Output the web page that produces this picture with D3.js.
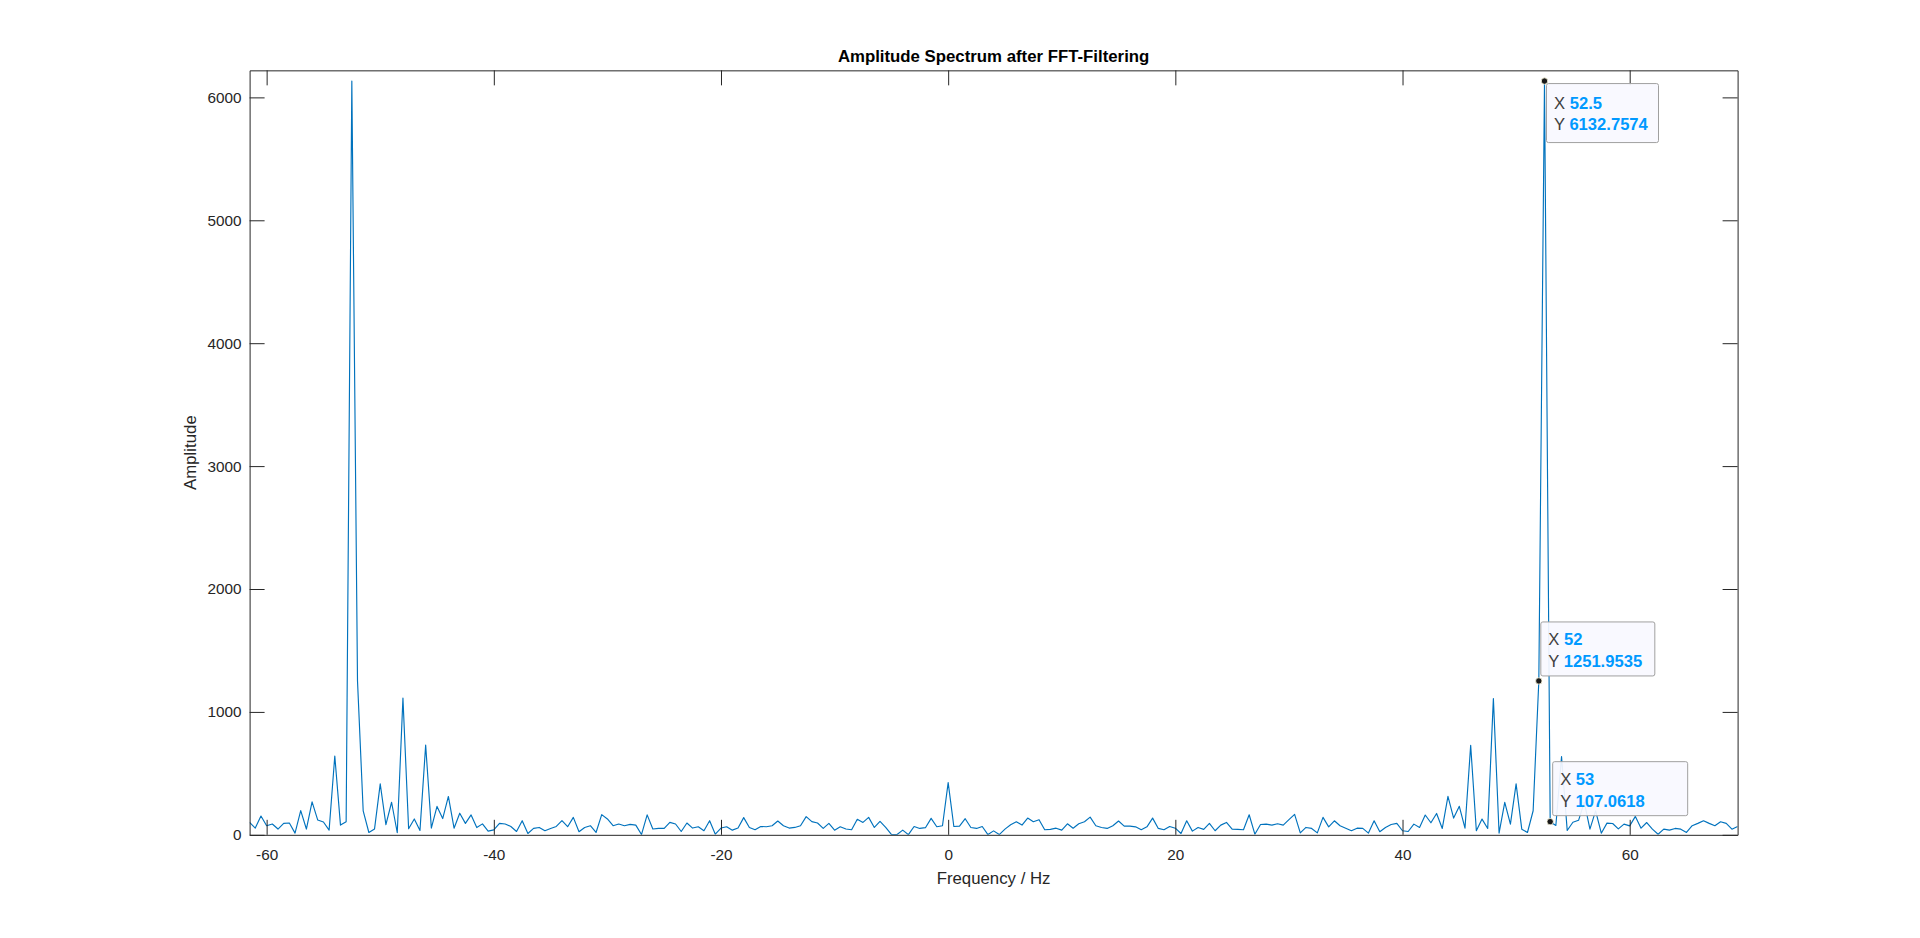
<!DOCTYPE html>
<html><head><meta charset="utf-8">
<script src="https://cdn.jsdelivr.net/npm/d3@7"></script>
<style>
body{margin:0;background:#fff;}
svg{display:block;}
text{font-family:"Liberation Sans",Arial,Helvetica,sans-serif;}
</style>
</head><body>
<svg id="chart" width="1920" height="938"></svg>
<script>
// ---- data ----
const freqStart = -61.5;
const freqStep = 0.5;
const amplitude = [
  101,55,153,74,88,47,93,96,14,197,
  47,268,120,104,38,641,79,107.0618,6132.7574,1251.9535,
  194,19,48,415,83,265,17,1112,50,129,
  36,730,55,231,132,312,54,176,93,162,
  59,89,30,40,93,88,68,27,115,11,
  52,60,33,52,68,115,66,142,25,60,
  74,19,164,129,74,88,74,85,79,2,
  162,47,52,52,101,88,27,96,55,66,
  33,115,5,55,66,38,55,140,60,41,
  68,66,74,112,74,55,60,74,148,107,
  96,52,93,38,66,47,41,126,101,142,
  60,110,60,3,2,38,1,68,52,58,
  134,66,74,425,68,71,131,60,52,68,
  2,32,2,46,82,106,79,136,106,123,
  41,44,54,38,90,54,90,106,144,74,
  60,52,74,112,71,71,65,41,65,136,
  52,41,68,54,11,114,30,60,44,93,
  33,79,101,46,44,41,163,5,84,87,
  79,90,79,123,166,16,60,52,16,142,
  65,114,74,54,33,54,52,14,114,25,
  60,84,93,33,27,87,60,161,98,174,
  52,313,136,232,54,728,33,128,52,1109,
  14,264,87,414,46,19,196,1251.9535,6132.7574,107.0618,
  76,636,35,102,118,266,46,195,13,95,
  92,48,87,73,150,54,100,46,5,46,
  38,52,46,19,74,93,114,93,74,106,
  93,46,68
];
const xTicks = [-60,-40,-20,0,20,40,60];
const yTicks = [0,1000,2000,3000,4000,5000,6000];
const xDomain = [-61.5, 69.5];
const yDomain = [0, 6220];
const tipX = [52.5, 52, 53];
const tipY = [6132.7574, 1251.9535, 107.0618];
const titleText = "Amplitude Spectrum after FFT-Filtering";
const xLabelText = "Frequency / Hz";
const yLabelText = "Amplitude";

// ---- layout ----
const W = 1920, H = 938;
const pLeft = 0.13*W, plotW = 0.775*W;
const pBottom = H - 0.11*H, pTop = H - 0.925*H;
const axisColor = "#262626";
const lineColor = "#0072BD";
const tickLen = 15;
const fs = 15.3;
// data tip box layout (placement relative to marker, box size)
const tipLayout = [
  {dx: 2, dy: 2.5, below: true, w: 112, h: 59, base: 25.5, lh: 21},
  {dx: 2, dy: -5, below: false, w: 114, h: 54, base: 23, lh: 22},
  {dx: 2.5, dy: -6, below: false, w: 135, h: 54, base: 23, lh: 22}
];

const svg = d3.select("#chart");
const x = d3.scaleLinear().domain(xDomain).range([pLeft, pLeft+plotW]);
const y = d3.scaleLinear().domain(yDomain).range([pBottom, pTop]);

const points = amplitude.map((a,i)=>({f: freqStart + i*freqStep, a}));

svg.append("clipPath").attr("id","clip").append("rect")
  .attr("x",pLeft).attr("y",pTop).attr("width",plotW).attr("height",pBottom-pTop);
svg.append("path").datum(points)
  .attr("clip-path","url(#clip)")
  .attr("fill","none").attr("stroke",lineColor).attr("stroke-width",1.15)
  .attr("stroke-linejoin","round")
  .attr("d", d3.line().x(d=>x(d.f)).y(d=>y(d.a)));

function styleAxis(g){
  g.selectAll("path.domain").attr("stroke",axisColor).attr("stroke-width",1);
  g.selectAll(".tick line").attr("stroke",axisColor).attr("stroke-width",1);
  g.selectAll(".tick text").attr("fill",axisColor).style("font-size",fs+"px")
    .style("font-family",'"Liberation Sans",Arial,Helvetica,sans-serif');
}
const gB = svg.append("g").attr("transform",`translate(0,${pBottom})`)
  .call(d3.axisBottom(x).tickValues(xTicks).tickSizeInner(-tickLen).tickSizeOuter(0).tickPadding(14).tickFormat(d=>String(d)));
styleAxis(gB);
const gT = svg.append("g").attr("transform",`translate(0,${pTop})`)
  .call(d3.axisTop(x).tickValues(xTicks).tickSizeInner(-tickLen).tickSizeOuter(0).tickFormat(""));
styleAxis(gT);
const gL = svg.append("g").attr("transform",`translate(${pLeft},0)`)
  .call(d3.axisLeft(y).tickValues(yTicks).tickSizeInner(-tickLen).tickSizeOuter(0).tickPadding(8).tickFormat(d=>String(d)));
styleAxis(gL);
const gR = svg.append("g").attr("transform",`translate(${pLeft+plotW},0)`)
  .call(d3.axisRight(y).tickValues(yTicks).tickSizeInner(-tickLen).tickSizeOuter(0).tickFormat(""));
styleAxis(gR);

svg.append("text").attr("x",pLeft+plotW/2).attr("y",pTop-8)
  .attr("text-anchor","middle").attr("fill","#000")
  .style("font-size","16.8px").style("font-weight","bold").text(titleText);
svg.append("text").attr("x",pLeft+plotW/2).attr("y",pBottom+49)
  .attr("text-anchor","middle").attr("fill",axisColor)
  .style("font-size","16.8px").text(xLabelText);
svg.append("text").attr("transform",`translate(${pLeft-54},${(pTop+pBottom)/2}) rotate(-90)`)
  .attr("text-anchor","middle").attr("fill",axisColor)
  .style("font-size","16.8px").text(yLabelText);

// data tips
tipX.forEach((fx,i)=>{
  const L = tipLayout[i];
  const px = x(fx), py = y(tipY[i]);
  const bx = px + L.dx;
  const by = L.below ? py + L.dy : py + L.dy - L.h;
  const g = svg.append("g");
  g.append("rect").attr("x",bx).attr("y",by).attr("width",L.w).attr("height",L.h)
    .attr("rx",2).attr("fill","#F8F8FF").attr("fill-opacity",0.92)
    .attr("stroke","#A0A0A0").attr("stroke-width",1);
  const lines = [["X", String(fx)],["Y", String(tipY[i])]];
  lines.forEach((ln,j)=>{
    const t = g.append("text").attr("x",bx+7.5).attr("y",by+L.base+j*L.lh).style("font-size","16.6px");
    t.append("tspan").attr("fill","#404040").text(ln[0]+" ");
    t.append("tspan").attr("fill","#0099FF").style("font-weight","bold").text(ln[1]);
  });
  svg.append("circle").attr("cx",px).attr("cy",py).attr("r",3.2)
    .attr("fill","#1a1a1a").attr("stroke","#fffbe0").attr("stroke-width",0.8);
});
</script>
</body></html>
